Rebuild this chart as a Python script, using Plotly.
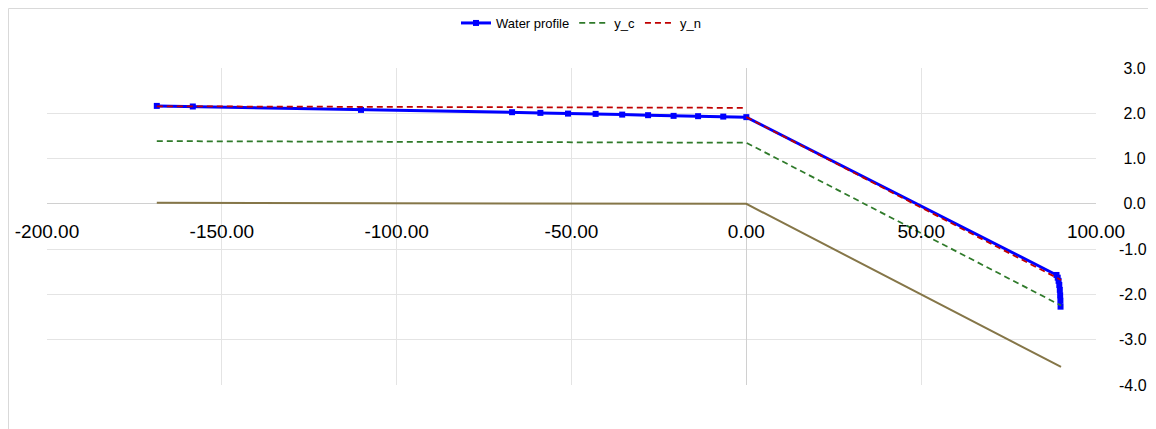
import plotly.graph_objects as go

# Water surface profile (distance, elevation)
profile_x = [-168.6, -158.3, -110.2, -67.0, -58.9, -51.0, -43.1, -35.5, -28.1, -20.8, -13.8, -6.6, 0.0,
             88.70, 89.05, 89.30, 89.50, 89.65, 89.75, 89.82, 89.86]
profile_y = [2.163, 2.150, 2.075, 2.024, 2.009, 1.993, 1.987, 1.971, 1.958, 1.943, 1.936, 1.927, 1.915,
             -1.57, -1.63, -1.70, -1.79, -1.90, -2.02, -2.14, -2.27]

# Critical depth line
yc_x = [-168.6, 0.0, 90.0]
yc_y = [1.385, 1.350, -2.245]

# Normal depth line (upstream reach, then downstream reach)
yn_x = [-168.6, 0.0, None, 0.0, 90.0]
yn_y = [2.155, 2.120, None, 1.915, -1.680]

# Channel bed
bed_x = [-168.6, 0.0, 90.0]
bed_y = [0.025, 0.0, -3.60]

x_ticks = [-200, -150, -100, -50, 0, 50, 100]
y_ticks = [3, 2, 1, 0, -1, -2, -3, -4]
y_ticktext = [("\u00a0" if v >= 0 else "") + f"{v:.1f}" for v in y_ticks]

fig = go.Figure()
fig.add_trace(go.Scatter(x=bed_x, y=bed_y, mode="lines", showlegend=False,
                         line=dict(color="#857648", width=2)))
fig.add_trace(go.Scatter(x=profile_x, y=profile_y, mode="lines+markers", name="Water profile",
                         line=dict(color="#0000ff", width=3),
                         marker=dict(symbol="square", size=6, color="#0000ff")))
fig.add_trace(go.Scatter(x=yc_x, y=yc_y, mode="lines", name="y_c",
                         line=dict(color="#2f7a2a", width=1.75, dash="6px,4px")))
fig.add_trace(go.Scatter(x=yn_x, y=yn_y, mode="lines", name="y_n", connectgaps=False,
                         line=dict(color="#c00000", width=1.75, dash="6px,4px")))

# page has an 8px body margin; figure coordinates = page coordinates - 8
OFF = 8
L, R, T, B = 47 - OFF, 1096 - OFF, 68 - OFF, 385 - OFF
W, H = 1156 - OFF, 429 - OFF
pw, ph = R - L, B - T

fig.add_shape(type="rect", xref="paper", yref="paper",
              x0=(8 - OFF + 0.5 - L) / pw, x1=(1151 - OFF - L) / pw,
              y0=-(445 - B) / ph, y1=(B - (8 - OFF + 0.5)) / ph,
              line=dict(color="#d9d9d9", width=1), fillcolor="rgba(0,0,0,0)", layer="below")

fig.update_layout(
    width=W, height=H,
    margin=dict(l=L, r=W - R, t=T, b=H - B, autoexpand=False),
    paper_bgcolor="white", plot_bgcolor="white",
    font=dict(family="Liberation Sans, Arial, sans-serif", color="#000000"),
    legend=dict(orientation="h", x=(581 - OFF - L) / pw, xanchor="center",
                y=(B - (23 - OFF)) / ph, yanchor="middle",
                font=dict(size=13), itemwidth=30, bgcolor="rgba(0,0,0,0)"),
    xaxis=dict(range=[-200, 100], tickvals=x_ticks, ticktext=[f"{v:.2f}" for v in x_ticks],
               showgrid=True, gridcolor="#e4e4e4", gridwidth=1,
               zeroline=True, zerolinecolor="#d0d0d0", zerolinewidth=1,
               anchor="free", position=4 / 7, side="bottom",
               showline=False, ticks="", ticklabelstandoff=14, tickfont=dict(size=19)),
    yaxis=dict(range=[-4, 3], tickvals=y_ticks, ticktext=y_ticktext,
               showgrid=True, gridcolor="#e4e4e4", gridwidth=1,
               zeroline=True, zerolinecolor="#d0d0d0", zerolinewidth=1,
               side="right", ticks="", ticklabelstandoff=22, tickfont=dict(size=16)),
)

fig.write_html("out.html")
